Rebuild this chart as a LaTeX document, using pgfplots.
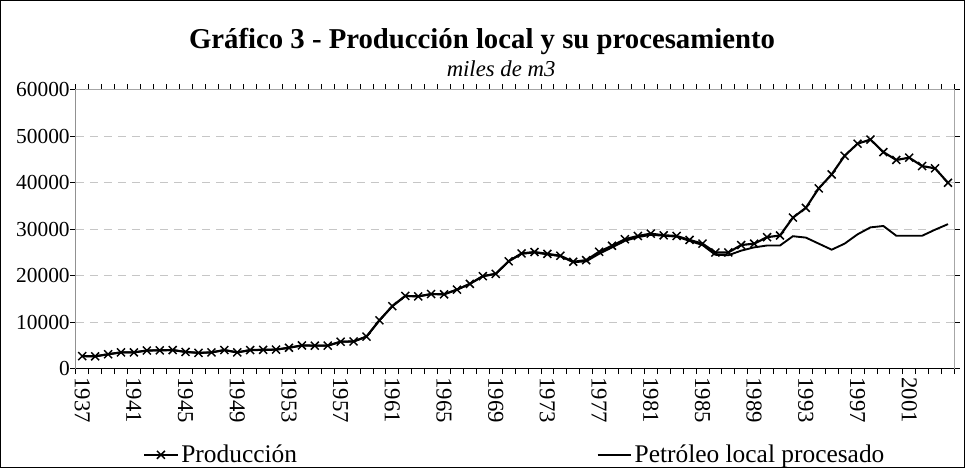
\documentclass[border=0pt]{standalone}
\usepackage{fontspec}
\setmainfont{Liberation Serif}
\usepackage{pgfplots}
\usepackage{pgfplotstable}
\pgfplotsset{compat=1.18}

% miles de m3; idx 0 = 1937
\pgfplotstableread{
idx year prod proc
0 1937 2700 2700
1 1938 2650 2650
2 1939 3100 3100
3 1940 3500 3500
4 1941 3500 3500
5 1942 3900 3900
6 1943 3950 3950
7 1944 4000 4000
8 1945 3600 3600
9 1946 3400 3400
10 1947 3500 3500
11 1948 4000 4000
12 1949 3500 3500
13 1950 4000 4000
14 1951 4050 4050
15 1952 4100 4100
16 1953 4500 4500
17 1954 5000 5000
18 1955 4950 4950
19 1956 4950 4950
20 1957 5800 5800
21 1958 5850 5850
22 1959 6900 6900
23 1960 10400 10400
24 1961 13450 13450
25 1962 15650 15650
26 1963 15550 15550
27 1964 16050 16050
28 1965 16000 16000
29 1966 17000 17000
30 1967 18250 18250
31 1968 19900 19900
32 1969 20400 20400
33 1970 23100 23100
34 1971 24800 24700
35 1972 25100 25000
36 1973 24700 24600
37 1974 24300 24200
38 1975 23000 22900
39 1976 23350 23100
40 1977 25150 24700
41 1978 26450 26100
42 1979 27850 27500
43 1980 28550 28300
44 1981 29050 28800
45 1982 28700 28600
46 1983 28550 28400
47 1984 27700 27500
48 1985 26900 26600
49 1986 25000 24500
50 1987 25000 24400
51 1988 26600 25400
52 1989 26900 26100
53 1990 28300 26500
54 1991 28650 26500
55 1992 32500 28500
56 1993 34600 28200
57 1994 38800 26900
58 1995 41800 25600
59 1996 45800 26900
60 1997 48400 28900
61 1998 49300 30400
62 1999 46600 30700
63 2000 44900 28600
64 2001 45400 28600
65 2002 43600 28600
66 2003 43100 29900
67 2004 40000 31100
}\datatable

\begin{document}
\begin{tikzpicture}
\begin{axis}[
    at={(0pt,0pt)}, anchor=south west,
    scale only axis,
    width=657pt, height=208.5pt,
    xmin=-0.5, xmax=67.5,
    ymin=0, ymax=60000,
    ytick={0,10000,...,60000},
    scaled y ticks=false,
    yticklabel style={/pgf/number format/1000 sep={},
        /pgf/number format/assume math mode=true,
        font=\fontsize{16}{18}\selectfont, xshift=3pt},
    xtick={0,4,...,64},
    xticklabels={1937,1941,1945,1949,1953,1957,1961,1965,1969,1973,1977,1981,1985,1989,1993,1997,2001},
    xticklabel style={rotate=-90, anchor=west, font=\fontsize{17}{18}\selectfont},
    xticklabel shift=-1pt,
    major x tick style={draw=none},
    minor xtick={-0.5,0.5,...,67.5},
    minor tick length=4pt,
    major tick length=4pt,
    tick align=outside,
    tick style={black, line width=0.6pt},
    ymajorgrids=true,
    grid style={gray!45, line width=0.6pt, dash pattern=on 6pt off 4.5pt},
    axis line style={draw=gray!70, line width=0.8pt},
    legend columns=2,
    legend style={at={(axis description cs:0.5,-0.309)}, anchor=center,
        draw=none, fill=none, font=\fontsize{19}{22}\selectfont,
        /tikz/every even column/.append style={column sep=222pt}},
    legend cell align=left,
    legend image code/.code={\draw[mark repeat=2,mark phase=2,#1] plot coordinates {(0pt,0pt) (12.5pt,0pt) (25pt,0pt)};},
]
\addplot[black, line width=1.6pt, mark=x, mark size=4.2pt, mark options={line width=1.1pt}]
    table[x=idx, y=prod] {\datatable};
\addlegendentry{Producción}
\addplot[black, line width=1.4pt, mark=none]
    table[x=idx, y=proc] {\datatable};
\addlegendentry{Petróleo local procesado}
\draw[black, line width=0.8pt] (rel axis cs:0,1) -- (rel axis cs:0,0) -- (rel axis cs:1,0);
\end{axis}
\node[anchor=base, font=\bfseries\fontsize{21.5}{24}\selectfont] at (303.75pt,239.25pt)
    {Gráfico 3 - Producción local y su procesamiento};
\node[anchor=base, font=\itshape\fontsize{17}{19}\selectfont] at (318pt,218.25pt)
    {miles de m3};
\draw[black, line width=0.8pt] (-56.25pt,-74.25pt) rectangle (664.5pt,275.25pt);
\end{tikzpicture}
\end{document}
